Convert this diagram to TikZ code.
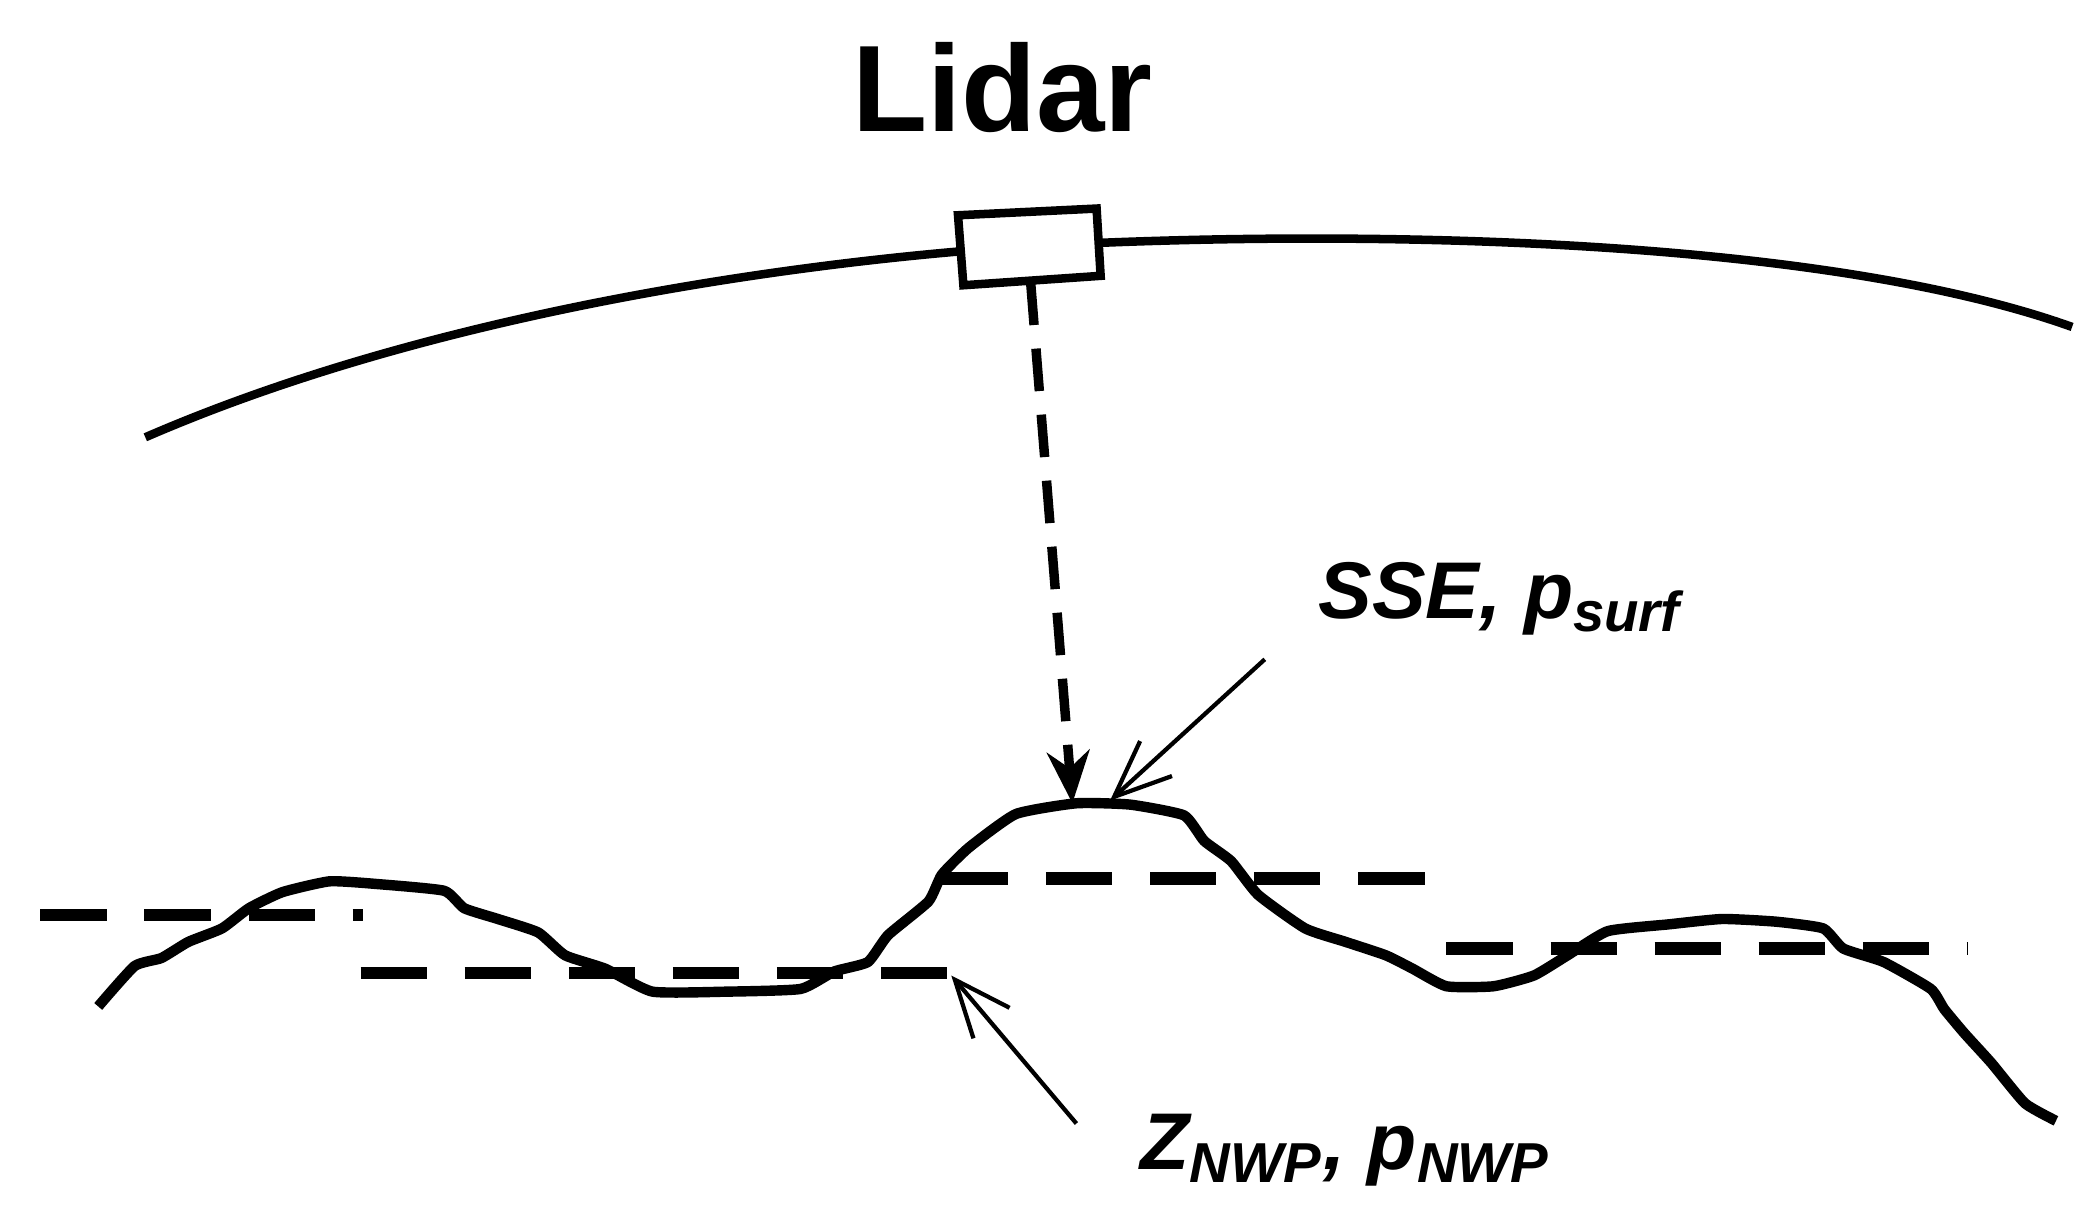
\documentclass[tikz,border=0pt]{standalone}
\usepackage{fontspec}
\setmainfont{Liberation Sans}
\usetikzlibrary{arrows.meta}
\begin{document}
\begin{tikzpicture}[x=0.01cm,y=-0.01cm,
  thickline/.style={line width=2.2pt,line join=round},
  dashline/.style={line width=2.6pt,dash pattern=on 14pt off 8pt},
  thinarrow/.style={line width=0.6pt,-{Stealth[length=9pt,width=6pt,open]}},
  lbl/.style={font=\fontsize{17}{20}\selectfont\bfseries\itshape,inner sep=0pt}]
\useasboundingbox (0,0) rectangle (1560,903);
\node[font=\fontsize{26}{30}\selectfont\bfseries] (lidar) at (745,65) {Lidar};
\draw[line width=1.8pt] (108,325) .. controls (350,220) and (650,190) .. (765,183)
  .. controls (1000,170) and (1350,175) .. (1540,243);
\draw[line width=1.8pt,fill=white] (712,160) -- (815,155) -- (818,205) -- (716,212) -- cycle;
\coordinate (boxb) at (766,210);
\coordinate (peak) at (797,597);
\draw[line width=2pt,dash pattern=on 9pt off 5pt,-{Stealth[length=11pt,width=9pt]}] (boxb) -- (peak);
\draw[thickline] plot[smooth,tension=0.3] coordinates {(73,748) (100,718) (120,712) (140,700) (165,690) (185,675) (210,663) (245,655) (280,657) (330,662) (345,675) (370,683) (400,693) (420,710) (450,720) (485,737) (540,737) (595,735) (620,722) (645,715) (660,695) (690,670) (700,650) (720,630) (755,605) (800,597) (840,598) (880,606) (895,625) (915,640) (935,665) (970,690) (1000,700) (1030,710) (1050,720) (1075,733) (1110,733) (1140,725) (1165,710) (1195,692) (1240,687) (1280,683) (1320,685) (1355,690) (1370,705) (1400,715) (1435,735) (1445,750) (1460,768) (1480,790) (1505,820) (1528,833)};
\draw[dashline] (30,680) -- (270,680);
\draw[dashline] (268,723) -- (705,723);
\draw[dashline] (700,653) -- (1075,653);
\draw[dashline] (1075,705) -- (1462,705);
\node[lbl] (sse) at (1115,445) {SSE, p\textsubscript{surf}};
\node[lbl] (zn) at (1000,855) {Z\textsubscript{NWP}, p\textsubscript{NWP}};
\coordinate (a1) at (940,490); \coordinate (a1e) at (825,595);
\coordinate (a2) at (800,835); \coordinate (a2e) at (707,725);
\draw[line width=0.9pt,-{Straight Barb[length=12pt,width=10pt]}] (a1) -- (a1e);
\draw[line width=0.9pt,-{Straight Barb[length=12pt,width=10pt]}] (a2) -- (a2e);
\end{tikzpicture}
\end{document}
